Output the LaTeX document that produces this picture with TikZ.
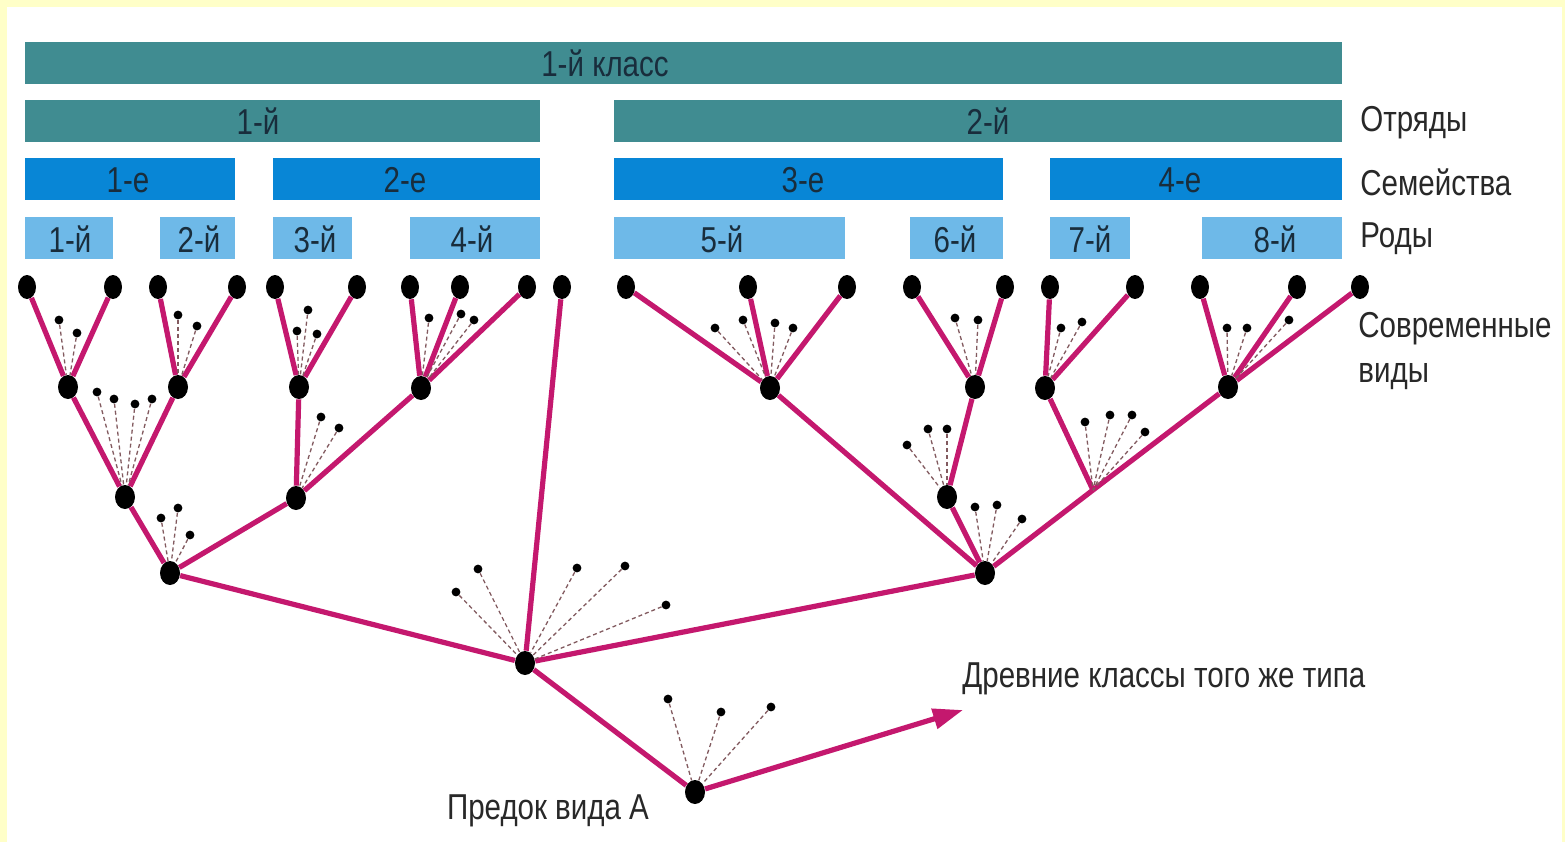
\documentclass[tikz,border=0pt]{standalone}
\usepackage{fontspec}
\setmainfont{Liberation Sans}[FakeStretch=0.82]
\usetikzlibrary{arrows.meta,shapes.geometric}
\definecolor{bgyellow}{RGB}{255,255,200}
\definecolor{clsteal}{RGB}{64,140,145}
\definecolor{famblue}{RGB}{8,134,214}
\definecolor{genblue}{RGB}{110,185,232}
\definecolor{bartext}{RGB}{25,45,60}
\definecolor{branch}{RGB}{196,24,110}
\definecolor{dashcol}{RGB}{130,90,95}
\definecolor{labeltext}{RGB}{40,40,40}
\tikzset{
  lbl/.style={font=\fontsize{18}{22.5}\selectfont, text=labeltext, inner sep=0pt},
  bartxt/.style={font=\fontsize{18}{21}\selectfont, text=bartext, inner sep=0pt},
  sp/.style={ellipse, fill=black, inner sep=0pt, minimum width=9pt, minimum height=12pt},
  inode/.style={ellipse, fill=black, inner sep=0pt, minimum width=10pt, minimum height=12pt},
  dot/.style={circle, fill=black, inner sep=0pt, minimum size=4.4pt},
  branchline/.style={draw=branch, line width=2.6pt},
  dashline/.style={draw=dashcol, line width=0.65pt, dash pattern=on 2pt off 1.5pt}
}
\begin{document}
\begin{tikzpicture}[x=0.5pt,y=-0.5pt]
\fill[bgyellow] (0,0) rectangle (1565,842);
\fill[white] (7,7) rectangle (1562,842);
\useasboundingbox (0,0) rectangle (1565,842);
% class
\fill[clsteal] (25,42) rectangle (1342,84);
\node[bartxt] (cls) at (605,63) {1-й класс};
% orders
\fill[clsteal] (25,100) rectangle (540,142);
\node[bartxt] (ord1) at (258,121) {1-й};
\fill[clsteal] (614,100) rectangle (1342,142);
\node[bartxt] (ord2) at (988,121) {2-й};
% families
\fill[famblue] (25,158) rectangle (235,200);
\node[bartxt] (fam1) at (128,180) {1-е};
\fill[famblue] (273,158) rectangle (540,200);
\node[bartxt] (fam2) at (405,180) {2-е};
\fill[famblue] (614,158) rectangle (1003,200);
\node[bartxt] (fam3) at (803,180) {3-е};
\fill[famblue] (1050,158) rectangle (1342,200);
\node[bartxt] (fam4) at (1180,180) {4-е};
% genera
\foreach \nm/\xa/\xb/\tx/\t in {g1/25/113/70/1-й, g2/160/235/199/2-й, g3/273/352/315/3-й, g4/410/540/472/4-й,
  g5/614/845/722/5-й, g6/910/1003/955/6-й, g7/1050/1130/1090/7-й, g8/1202/1342/1275/8-й}{
  \fill[genblue] (\xa,217) rectangle (\xb,259);
  \node[bartxt] (\nm) at (\tx,239) {\t};
}
% right labels
\node[lbl, anchor=west] (lord) at (1360,123) {Отряды};
\node[lbl, anchor=west] (lfam) at (1360,182) {Семейства};
\node[lbl, anchor=west] (lgen) at (1360,239) {Роды};
\node[lbl, anchor=west, align=left] (lsp) at (1358,351) {Современные\\виды};
\node[lbl, anchor=west] (lanc) at (962,679) {Древние классы того же типа};
\node[lbl] (lA) at (548,811) {Предок вида А};
% species
\foreach \n/\x in {s1/27,s2/113,s3/158,s4/237,s5/275,s6/357,s7/410,s8/460,s9/527,s10/562,
  s11/626,s12/748,s13/847,s14/912,s15/1005,s16/1050,s17/1135,s18/1200,s19/1297,s20/1360}{
  \node[sp] (\n) at (\x,287) {};
}
% internal nodes
\foreach \n/\x/\y in {n1/68/387, n2/178/387, n3/125/497, n4/170/573, n5/299/387, n6/421/388,
  n7/296/498, R/525/663, A/695/792, n8/985/573, n9/770/388, n10/975/387, n11/947/497,
  n12/1045/388, n13/1228/387}{
  \node[inode] (\n) at (\x,\y) {};
}
\coordinate (j) at (1093,490);
\coordinate (arrowend) at (963,710);
% branches
\foreach \a/\b in {s1/n1, s2/n1, s3/n2, s4/n2, n1/n3, n2/n3, n3/n4, n4/R,
  s5/n5, s6/n5, s7/n6, s8/n6, s9/n6, n5/n7, n6/n7, n7/n4, s10/R,
  s11/n9, s12/n9, s13/n9, n9/n8, s14/n10, s15/n10, n10/n11, n11/n8,
  s16/n12, s17/n12, n12/j, n8/j, j/n13, s18/n13, s19/n13, s20/n13, R/n8, R/A}{
  \path[branchline] (\a) -- (\b);
}
\draw[branchline, -{Triangle[length=15pt,width=10pt]}] (A) -- (arrowend);
% extinct side branches
\foreach [count=\i] \p/\x/\y in {n1/59/320, n1/77/333, n2/178/315, n2/197/326,
  n3/97/392, n3/114/399, n3/135/404, n3/152/399, n4/161/518, n4/178/508, n4/190/535,
  n5/308/310, n5/297/331, n5/317/334, n6/429/318, n6/461/314, n6/474/320,
  n7/321/417, n7/339/428, R/456/592, R/478/569, R/577/568, R/625/566, R/666/605,
  A/668/699, A/721/712, A/771/707, n9/715/328, n9/743/320, n9/775/323, n9/793/328,
  n10/955/318, n10/978/320, n11/907/445, n11/928/429, n11/947/429,
  n8/975/507, n8/997/505, n8/1022/519, j/1085/422, j/1110/415, j/1132/415, j/1145/432,
  n12/1061/328, n12/1082/322, n13/1227/328, n13/1247/328, n13/1289/320}{
  \node[dot] (d\i) at (\x,\y) {};
  \path[dashline] (d\i) -- (\p);
}
\end{tikzpicture}
\end{document}
